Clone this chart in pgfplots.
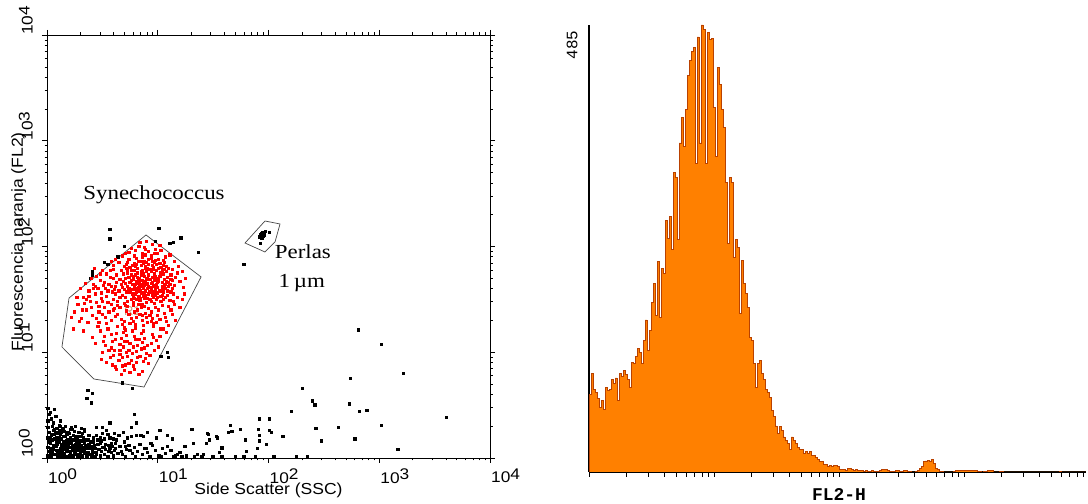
\documentclass[border=0pt]{standalone}
\usepackage{fontspec}
\setmainfont{Liberation Serif}
\setsansfont{Liberation Sans}
\setmonofont{Liberation Mono}
\usepackage{graphicx}
\usepackage{pgfplots}
\pgfplotsset{compat=1.18}

\definecolor{histfill}{RGB}{255,128,0}
\definecolor{histline}{RGB}{185,65,0}
\definecolor{gateline}{RGB}{70,70,70}
\definecolor{rlabel}{RGB}{190,120,70}

% decade labels of the cytometer axes: 10 followed by a raised exponent
\newcommand{\dec}[1]{\scalebox{1.12}[1]{10\raisebox{0.2em}{#1}}}
\newcommand{\tickfont}{\fontsize{15.5}{15.5}\selectfont\sffamily}
\newcommand{\labfont}{\fontsize{16}{16}\selectfont\sffamily}

\begin{document}
\begin{tikzpicture}[x=1bp,y=1bp]
\path[use as bounding box] (0,0) rectangle (1088,504);

% ---------------- dot plot: SSC vs FL2 (decades) ----------------
\begin{axis}[
  at={(47bp,46bp)}, anchor=south west,
  scale only axis, width=443bp, height=423bp,
  xmin=0, xmax=4, ymin=0, ymax=4,
  xtick={0,1,2,3,4}, ytick={0,1,2,3,4},
  xticklabels={\dec{0},\dec{1},\dec{2},\dec{3},\dec{4}},
  yticklabels={\dec{0},\dec{1},\dec{2},\dec{3},\dec{4}},
  minor xtick={0.301,0.477,0.602,0.699,0.778,0.845,0.903,0.954,1.301,1.477,1.602,1.699,1.778,1.845,1.903,1.954,2.301,2.477,2.602,2.699,2.778,2.845,2.903,2.954,3.301,3.477,3.602,3.699,3.778,3.845,3.903,3.954},
  minor ytick={0.301,0.477,0.602,0.699,0.778,0.845,0.903,0.954,1.301,1.477,1.602,1.699,1.778,1.845,1.903,1.954,2.301,2.477,2.602,2.699,2.778,2.845,2.903,2.954,3.301,3.477,3.602,3.699,3.778,3.845,3.903,3.954},
  tick align=outside,
  major tick length=5bp, minor tick length=2.5bp,
  tick style={black, line width=0.6bp},
  axis line style={black, line width=0.8bp},
  xticklabel shift=6bp,
  yticklabel shift=9bp,
  xticklabel style={font=\tickfont, anchor=north west, inner sep=0pt, xshift=1bp},
  yticklabel style={font=\tickfont, rotate=90, anchor=south west, inner sep=0pt},
  xlabel={\scalebox{1.1}[1]{Side Scatter (SSC)}},
  ylabel={\scalebox{1.1}[1]{Fluorescencia naranja (FL2)}},
  xlabel style={font=\labfont, at={(axis description cs:0.5,-0.086)}, anchor=base},
  ylabel style={font=\labfont, at={(axis description cs:-0.064,0.511)}, anchor=center},
]
% events outside the gates
\addplot[black, only marks, mark=square*, mark size=1.15bp, mark options={solid, draw=black, fill=black, line width=0pt}] coordinates {
(0.01,0.02) (0.02,0.06) (0.01,0.10) (0.02,0.15) (0.01,0.19) (0.02,0.24) (0.01,0.29) (0.01,0.35) (0.02,0.41) (0.01,0.47)
(0.04,0.01) (0.05,0.05) (0.04,0.09) (0.06,0.12) (0.05,0.17) (0.04,0.21) (0.06,0.26) (0.05,0.30)
(0.08,0.03) (0.09,0.07) (0.08,0.11) (0.10,0.15) (0.09,0.19) (0.08,0.24) (0.10,0.02) (0.09,0.13)
(0.12,0.01) (0.13,0.05) (0.12,0.09) (0.14,0.13) (0.13,0.18) (0.12,0.22) (0.14,0.27) (0.13,0.03)
(0.16,0.04) (0.17,0.08) (0.16,0.12) (0.18,0.16) (0.17,0.20) (0.16,0.25) (0.18,0.01) (0.17,0.11)
(0.20,0.02) (0.21,0.06) (0.20,0.10) (0.22,0.14) (0.21,0.19) (0.20,0.23) (0.22,0.29) (0.21,0.04)
(0.24,0.01) (0.25,0.05) (0.24,0.09) (0.26,0.13) (0.25,0.17) (0.24,0.21) (0.26,0.07) (0.25,0.25)
(0.28,0.03) (0.29,0.07) (0.28,0.12) (0.30,0.16) (0.29,0.20) (0.28,0.01) (0.30,0.10) (0.29,0.24)
(0.32,0.02) (0.33,0.06) (0.32,0.10) (0.34,0.14) (0.33,0.19) (0.32,0.23) (0.34,0.04)
(0.36,0.01) (0.37,0.05) (0.36,0.09) (0.38,0.13) (0.37,0.17) (0.36,0.03) (0.38,0.21)
(0.40,0.02) (0.41,0.07) (0.40,0.11) (0.42,0.15) (0.41,0.04) (0.42,0.19)
(0.44,0.01) (0.45,0.05) (0.44,0.09) (0.46,0.13) (0.45,0.03) (0.46,0.17)
(0.48,0.02) (0.49,0.06) (0.50,0.10) (0.48,0.14) (0.52,0.03) (0.53,0.08) (0.55,0.01) (0.56,0.12) (0.58,0.05) (0.60,0.02) (0.62,0.09) (0.64,0.04)
(0.03,0.14) (0.07,0.18) (0.11,0.15) (0.15,0.09) (0.19,0.13) (0.23,0.17) (0.27,0.15) (0.31,0.12) (0.35,0.17) (0.39,0.09) (0.43,0.12) (0.47,0.08)
(0.06,0.08) (0.10,0.23) (0.14,0.07) (0.18,0.22) (0.22,0.10) (0.26,0.20) (0.30,0.05) (0.34,0.25) (0.07,0.27) (0.11,0.19) (0.15,0.28) (0.19,0.06)
(0.23,0.27) (0.27,0.03) (0.31,0.28) (0.35,0.11) (0.03,0.03) (0.15,0.01) (0.19,0.17) (0.23,0.02)
(0.02,0.01) (0.06,0.03) (0.10,0.05) (0.14,0.02) (0.18,0.07) (0.22,0.01) (0.26,0.04) (0.30,0.02) (0.34,0.08) (0.38,0.03) (0.42,0.01) (0.03,0.07)
(0.07,0.11) (0.11,0.06) (0.15,0.15) (0.19,0.10) (0.23,0.12) (0.27,0.09) (0.31,0.07) (0.35,0.05) (0.39,0.15) (0.43,0.05) (0.05,0.22) (0.09,0.16)
(0.13,0.12) (0.17,0.14) (0.21,0.16) (0.25,0.11) (0.29,0.13) (0.33,0.16) (0.37,0.12) (0.41,0.10) (0.03,0.18) (0.07,0.22) (0.11,0.26) (0.15,0.20)
(0.19,0.24) (0.23,0.07) (0.27,0.18) (0.31,0.20) (0.06,0.33) (0.09,0.28) (0.13,0.24) (0.17,0.30) (0.21,0.27) (0.04,0.37) (0.08,0.39) (0.03,0.43)
(0.12,0.35) (0.26,0.30) (0.45,0.21) (0.49,0.16) (0.52,0.10) (0.56,0.06) (0.59,0.11) (0.62,0.14) (0.67,0.06) (0.71,0.11) (0.75,0.07) (0.57,0.19)
(0.52,0.18) (0.55,0.22) (0.58,0.14) (0.61,0.07) (0.63,0.17) (0.66,0.11) (0.68,0.03) (0.70,0.15) (0.72,0.08) (0.74,0.12) (0.77,0.04) (0.79,0.10)
(0.82,0.06) (0.84,0.13) (0.86,0.03) (0.88,0.09) (0.91,0.05) (0.95,0.12) (0.98,0.07) (1.01,0.02) (1.04,0.09) (1.07,0.04) (1.12,0.07) (1.16,0.02)
(1.20,0.05) (1.26,0.02) (0.54,0.26) (0.65,0.21) (0.73,0.19) (0.50,0.23) (0.57,0.09) (0.69,0.24) (0.60,0.18) (0.48,0.19) (0.53,0.13)
(0.07,0.46) (0.36,0.56) (0.40,0.52) (0.12,0.30) (0.57,0.33) (0.79,0.41) (0.81,0.33) (0.76,0.29) (0.81,0.21) (0.85,0.21) (0.91,0.24) (1.02,0.26)
(1.09,0.21) (1.13,0.18) (0.99,0.19) (0.90,0.09) (1.09,0.11) (1.25,0.11) (1.31,0.27) (1.32,0.14) (1.45,0.23) (1.47,0.17) (1.44,0.14) (1.53,0.20)
(1.58,0.09) (1.56,0.05) (1.66,0.31) (1.64,0.24) (1.67,0.25) (1.75,0.27) (1.79,0.17) (1.80,0.06) (1.91,0.27) (1.92,0.37) (2.01,0.37) (1.92,0.21)
(1.92,0.16) (1.90,0.09) (1.98,0.13) (2.01,0.26) (2.03,0.24) (2.13,0.20) (2.21,0.44) (2.31,0.66) (2.40,0.54) (2.42,0.50) (2.43,0.28) (2.48,0.16)
(2.63,0.29) (2.73,0.51) (2.78,0.18) (2.82,0.44) (2.89,0.45) (3.02,0.31) (3.17,0.08) (3.61,0.38) (2.81,1.21) (3.02,1.07) (3.22,0.80) (2.74,0.75)
(0.45,0.29) (0.50,0.29) (0.34,0.27) (0.11,0.31) (0.61,0.23) (0.76,0.20) (0.87,0.20) (0.94,0.14) (1.24,0.11) (1.46,0.22) (1.54,0.19) (1.58,0.10)
(1.18,0.03) (1.36,0.03) (1.41,0.03) (0.37,0.64) (0.41,0.61)
(0.71,0.01) (0.80,0.01) (0.93,0.01) (1.03,0.01) (1.14,0.01) (1.22,0.01) (1.33,0.01) (1.40,0.01) (1.50,0.01) (1.58,0.01) (1.70,0.01) (1.78,0.01)
(1.88,0.01) (2.05,0.01) (2.25,0.01) (2.35,0.01)
(0.57,2.07) (0.70,2.00) (0.64,1.90) (0.52,1.85) (0.55,1.83) (0.41,1.76) (0.41,1.73) (0.39,1.70) (1.01,2.17) (0.98,2.05) (1.11,2.03) (1.14,2.04)
(1.21,2.08) (1.37,1.94) (1.78,1.83) (1.09,1.00) (1.10,0.95) (1.03,0.96) (0.68,0.71) (0.77,0.66) (0.57,2.16)
(1.94,2.12) (1.95,2.10) (1.92,2.09) (2.01,2.13) (1.93,2.03) (1.97,2.14) (1.93,2.11) (1.95,2.13) (1.94,2.08) (1.96,2.11)
};
% Synechococcus events (gate R1)
\addplot[red, only marks, mark=square*, mark size=1.1bp, mark options={solid, draw=red, fill=red, line width=0pt}] coordinates {
(0.71,1.52) (0.88,1.63) (0.95,1.71) (1.02,1.58) (0.79,1.84) (0.84,1.49) (1.10,1.66) (0.92,1.55) (0.76,1.68) (0.99,1.83) (0.86,1.77) (1.05,1.74)
(0.68,1.61) (0.81,1.57) (0.94,1.89) (1.13,1.60) (0.73,1.75) (0.90,1.47) (0.97,1.62) (0.83,1.70) (1.07,1.52) (0.77,1.59) (0.89,1.81) (1.01,1.67)
(0.70,1.46) (0.96,1.78) (0.85,1.56) (1.12,1.73) (0.80,1.64) (0.93,1.69) (0.74,1.88) (1.04,1.62) (0.87,1.53) (0.99,1.50) (0.82,1.79) (1.08,1.81)
(0.91,1.60) (0.78,1.72) (0.95,1.57) (1.14,1.55) (0.66,1.69) (0.88,1.86) (1.03,1.48) (0.84,1.63) (0.97,1.74) (0.72,1.57) (0.90,1.76) (1.06,1.69)
(0.79,1.51) (0.94,1.65) (0.86,1.90) (1.00,1.56) (0.75,1.80) (1.10,1.62) (0.83,1.45) (0.92,1.83) (1.04,1.77) (0.69,1.74) (0.96,1.52) (0.81,1.67)
(0.89,1.58) (1.07,1.60) (0.77,1.64) (0.98,1.87) (0.85,1.73) (1.11,1.49) (0.73,1.62) (0.91,1.70) (1.02,1.84) (0.80,1.55) (0.94,1.48) (0.87,1.66)
(1.05,1.57) (0.76,1.77) (0.99,1.64) (0.83,1.86) (1.09,1.71) (0.70,1.59) (0.93,1.61) (0.88,1.51) (1.01,1.79) (0.78,1.47) (0.95,1.82) (0.84,1.58)
(1.13,1.68) (0.72,1.83) (0.90,1.64) (1.03,1.53) (0.82,1.75) (0.97,1.68) (0.86,1.45) (1.08,1.76) (0.75,1.66) (0.92,1.88) (1.00,1.61) (0.79,1.61)
(0.95,1.54) (0.88,1.72) (1.06,1.85) (0.68,1.54) (0.91,1.79) (1.04,1.66) (0.81,1.50) (0.98,1.59) (0.85,1.82) (1.12,1.57) (0.74,1.71) (0.89,1.67)
(1.02,1.72) (0.77,1.55) (0.94,1.76) (0.87,1.60) (1.10,1.79) (0.71,1.65) (0.96,1.63) (0.83,1.53) (1.05,1.50) (0.80,1.81) (0.93,1.57) (0.99,1.77)
(0.76,1.50) (0.90,1.85) (1.07,1.64) (0.84,1.68) (0.97,1.46) (0.73,1.78) (1.01,1.70) (0.86,1.62) (0.92,1.73) (1.15,1.63) (0.78,1.69) (0.95,1.66)
(0.82,1.60) (1.03,1.80) (0.89,1.54) (0.70,1.81) (0.98,1.72) (0.85,1.76) (1.09,1.54) (0.75,1.57) (0.91,1.51) (1.04,1.59) (0.80,1.73) (0.94,1.61)
(0.87,1.84) (1.11,1.64) (0.67,1.64) (0.96,1.80) (0.83,1.65) (1.00,1.52)
(0.74,1.60) (0.86,1.68) (0.93,1.78) (1.00,1.66) (0.79,1.77) (0.88,1.56) (1.06,1.63) (0.82,1.71) (0.97,1.57) (0.71,1.70) (0.90,1.69) (1.03,1.75)
(0.78,1.53) (0.95,1.86) (0.85,1.64) (1.08,1.67) (0.73,1.48) (0.92,1.62) (0.99,1.69) (0.81,1.83) (0.87,1.74) (1.04,1.54) (0.76,1.73) (0.94,1.59)
(0.83,1.61) (1.01,1.88) (0.69,1.67) (0.89,1.79) (1.06,1.78) (0.80,1.59) (0.96,1.71) (0.84,1.51) (1.12,1.69) (0.72,1.79) (0.91,1.65) (0.98,1.54)
(0.77,1.82) (0.93,1.50) (1.09,1.58) (0.86,1.86) (0.61,1.59) (0.56,1.64) (0.50,1.48) (0.44,1.62) (0.66,1.52) (0.64,1.36) (0.53,1.33) (0.47,1.28)
(0.70,1.23) (0.78,1.29) (0.86,1.35) (0.94,1.29) (0.62,1.12) (0.70,1.10) (0.78,1.05) (0.86,1.09) (0.58,1.04) (0.66,1.02) (0.74,0.89) (0.82,0.95)
(0.68,0.87) (0.72,1.00) (0.80,1.12) (0.88,1.04) (0.96,1.14) (1.02,1.15) (0.51,1.10) (0.45,1.32) (0.40,1.42) (0.36,1.50) (0.32,1.40) (0.48,1.74)
(0.60,1.78) (0.67,1.77) (0.73,1.85) (0.81,1.89) (0.89,1.92) (0.97,1.85) (1.05,1.82) (1.13,1.78)
(0.62,1.88) (0.71,1.93) (0.80,1.96) (0.88,1.99) (0.95,2.02) (0.84,2.04) (0.92,1.95) (1.00,1.93) (1.07,1.90) (1.15,1.86) (0.76,1.98) (0.86,1.93)
(0.98,1.97) (0.68,1.91) (0.90,2.05) (1.03,1.96) (0.79,1.91) (1.11,1.92) (0.94,1.91) (0.74,1.94) (0.83,2.00) (0.58,1.86) (1.19,1.81) (1.22,1.76)
(1.25,1.70) (1.18,1.75) (1.20,1.67) (1.23,1.61) (1.16,1.71) (0.65,1.85) (0.89,1.97) (1.02,2.01) (0.97,1.93) (1.05,1.87) (0.60,1.82)
(0.45,1.72) (0.52,1.66) (0.38,1.58) (0.57,1.77) (0.49,1.51) (0.62,1.55) (0.42,1.64) (0.55,1.47) (0.33,1.52) (0.60,1.70) (0.47,1.43) (0.53,1.60)
(0.40,1.70) (0.64,1.48) (0.28,1.45) (0.50,1.77) (0.58,1.62) (0.36,1.40) (0.44,1.55) (0.61,1.41) (0.30,1.60) (0.54,1.53) (0.48,1.68) (0.63,1.66)
(0.39,1.48) (0.56,1.38) (0.46,1.60) (0.25,1.38) (0.59,1.57) (0.43,1.79) (0.52,1.42) (0.35,1.65) (0.65,1.58) (0.41,1.35) (0.57,1.71) (0.49,1.56)
(0.31,1.32) (0.62,1.62) (0.45,1.47) (0.54,1.74) (0.38,1.53) (0.60,1.50) (0.27,1.52) (0.51,1.63) (0.47,1.38) (0.58,1.45) (0.34,1.46) (0.63,1.73)
(0.42,1.60) (0.55,1.58) (0.29,1.29) (0.22,1.33) (0.37,1.28) (0.24,1.22) (0.33,1.20)
(0.66,1.42) (0.74,1.36) (0.82,1.40) (0.90,1.33) (0.98,1.42) (1.06,1.37) (0.70,1.29) (0.78,1.44) (0.86,1.30) (0.94,1.38) (1.02,1.31) (1.10,1.43)
(0.62,1.34) (0.80,1.26) (0.88,1.43) (0.96,1.27) (0.72,1.39) (1.04,1.44) (0.58,1.30) (0.84,1.36) (0.92,1.41) (1.00,1.35) (0.68,1.26) (0.76,1.32)
(1.08,1.29) (0.64,1.44) (0.87,1.25) (0.95,1.32) (0.54,1.27) (0.81,1.33) (0.71,1.44) (0.99,1.28) (0.50,1.36) (0.79,1.38) (0.91,1.28) (1.13,1.36)
(0.67,1.31) (0.85,1.42) (1.01,1.40) (0.75,1.27) (0.60,1.40) (0.93,1.35) (0.73,1.43) (0.89,1.37) (1.07,1.33)
(0.55,1.22) (0.63,1.18) (0.71,1.21) (0.79,1.15) (0.87,1.20) (0.95,1.17) (1.03,1.22) (0.59,1.10) (0.67,1.13) (0.75,1.08) (0.83,1.12) (0.91,1.06)
(0.99,1.11) (0.52,1.15) (0.61,1.02) (0.69,1.05) (0.77,0.99) (0.85,1.03) (0.93,0.97) (0.57,0.95) (0.65,0.92) (0.73,0.96) (0.81,0.90) (0.89,0.94)
(0.62,0.86) (0.70,0.83) (0.78,0.87) (0.86,0.82) (0.67,0.79) (0.75,0.81) (0.48,1.20) (0.44,1.08) (0.50,1.00) (0.54,0.90) (0.46,1.24) (0.64,1.24)
(0.72,1.16) (0.80,1.23) (0.88,1.13) (0.96,1.24) (0.58,1.17) (0.66,1.07) (0.74,1.02) (0.82,1.06) (0.90,0.99) (0.60,0.97) (0.68,0.95) (0.76,0.92)
(0.84,0.96) (0.71,0.88) (0.79,0.84) (0.63,0.84) (0.53,1.06) (1.01,1.05) (1.08,1.19) (0.97,1.02) (0.92,0.89) (0.41,1.14) (0.85,1.18) (0.77,1.20)
(0.69,1.19) (0.56,1.02) (0.73,1.10) (0.81,1.01) (0.66,0.98) (0.87,0.91) (0.59,0.88) (0.94,1.08) (0.49,0.93) (0.83,0.79)
(1.15,1.45) (1.18,1.52) (1.22,1.50) (1.12,1.40) (1.16,1.30) (1.10,1.25) (1.20,1.42) (1.14,1.48) (1.24,1.55) (1.05,1.22)
};
% gate R1 and bead gate
\addplot[gateline, line width=0.7bp] coordinates {(0.894,2.109) (1.391,1.712) (0.876,0.671) (0.424,0.747) (0.135,1.050) (0.199,1.513) (0.894,2.109)};
\addplot[gateline, line width=0.7bp] coordinates {(1.968,2.241) (2.104,2.213) (2.059,2.043) (1.968,1.948) (1.788,2.033) (1.968,2.241)};
\node[rlabel, opacity=0.75, font=\fontsize{13}{13}\selectfont\sffamily] at (axis cs:0.77,1.39) {R1};
\node[font=\fontsize{20}{20}\selectfont, xscale=1.15] at (axis cs:0.966,2.487) {Synechococcus};
\node[font=\fontsize{20}{20}\selectfont, xscale=1.15] at (axis cs:2.31,1.95) {Perlas};
\node[font=\fontsize{20}{20}\selectfont, xscale=1.15] at (axis cs:2.30,1.655) {1\,µm};
\end{axis}

% ---------------- FL2-H histogram ----------------
\begin{axis}[
  at={(589bp,32bp)}, anchor=south west,
  scale only axis, width=497bp, height=447bp,
  xmin=0, xmax=497, ymin=0, ymax=485,
  axis x line=bottom, axis y line=left,
  axis line style={-, black, line width=1.2bp},
  xtick={0,37.6,59.6,75.3,87.4,97.3,105.6,112.9,119.3,125,162.6,184.6,200.3,212.4,222.3,230.6,237.9,244.3,250,287.6,309.6,325.3,337.4,347.3,355.6,362.9,369.3,375,412.6,434.6,450.3,462.4,472.3,480.6,487.9,494.3},
  xticklabels={}, ytick=\empty,
  tick align=outside, major tick length=5bp,
  tick style={black, line width=0.8bp},
  xlabel={\textbf{FL2-H}}, ylabel={485},
  xlabel style={font=\fontsize{18}{18}\selectfont\ttfamily, at={(axis description cs:0.503,-0.063)}, anchor=base},
  ylabel style={font=\fontsize{16}{16}\selectfont\ttfamily, at={(axis description cs:-0.034,0.995)}, anchor=east},
]
\addplot[const plot, fill=histfill, draw=histline, line width=0.8bp] table {
x y
0 84
2 107
4 90
6 86
8 80
10 70
12 78
14 68
16 92
18 88
20 90
22 100
24 96
26 102
28 78
30 107
32 104
34 110
36 106
38 100
40 92
42 119
44 118
46 125
48 134
50 130
52 118
54 143
56 165
58 132
60 154
62 184
64 205
66 170
68 228
70 168
72 221
74 215
76 273
78 253
80 277
82 241
84 325
86 320
88 252
90 357
92 385
94 353
96 393
98 430
100 447
102 456
104 461
106 335
108 472
110 357
112 485
114 480
116 335
118 477
120 469
122 470
124 396
126 342
128 439
130 420
132 393
134 374
136 314
138 248
140 320
142 314
144 233
146 252
148 244
150 172
152 230
154 205
156 194
158 179
160 146
162 143
164 118
166 92
168 118
170 121
172 107
174 100
176 90
178 86
180 81
182 67
184 60
186 50
188 42
190 49
192 45
194 38
196 34
198 31
200 24
202 38
204 34
206 31
208 27
210 24
212 24
214 20
216 22
218 20
220 22
222 18
224 18
226 16
228 14
230 11
232 11
234 8
236 8
238 6
240 7
242 6
244 7
246 7
248 6
250 3
252 3
254 3
256 2
258 4
260 4
262 3
264 2
266 3
268 2
270 2
272 2
274 1
276 2
278 1
280 1
282 2
284 1
286 1
288 1
290 2
292 3
294 3
296 3
298 2
300 1
302 1
306 2
310 1
314 2
318 1
322 0
326 1
328 2
330 4
332 6
334 11
336 12
338 13
340 12
342 14
344 9
346 4
348 3
350 1
354 0
364 1
366 2
388 1
392 0
394 1
398 2
404 0
410 1
414 0
470 1
472 0
497 0
} \closedcycle;
\end{axis}
\end{tikzpicture}
\end{document}
